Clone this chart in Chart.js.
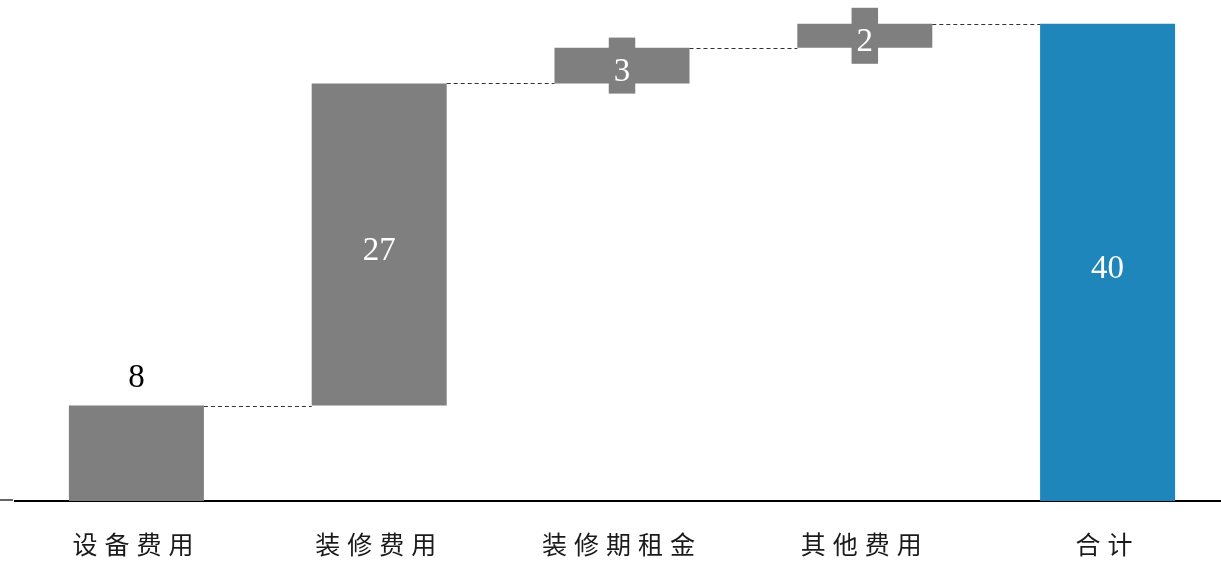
<!DOCTYPE html>
<html>
<head>
<meta charset="utf-8">
<script src="https://cdn.jsdelivr.net/npm/chart.js@4"></script>
<style>
  html, body { margin: 0; padding: 0; background: #fff; overflow: hidden; }
  #wrap { position: absolute; left: 0; top: 0; width: 1240px; height: 579px; }
</style>
</head>
<body>
<div id="wrap"><canvas id="chart"></canvas></div>
<script>
const categories = ['设备费用', '装修费用', '装修期租金', '其他费用', '合计'];
const amounts = [8, 27, 3, 2, 40];
const isTotal = [false, false, false, false, true];

const stepColor = '#7f7f7f';
const totalColor = '#1e86ba';

// build floating bars from the step amounts
let running = 0;
const floats = [];
const tops = [];
amounts.forEach((v, i) => {
    if (isTotal[i]) {
        floats.push([0, v]);
        tops.push(v);
    } else {
        floats.push([running, running + v]);
        running += v;
        tops.push(running);
    }
});

const waterfallExtras = {
    id: 'waterfallExtras',
    beforeDraw(chart) {
        chart.ctx.letterSpacing = '7px';
    },
    beforeDatasetsDraw(chart) {
        chart.ctx.letterSpacing = '0px';
    },
    afterDatasetsDraw(chart) {
        const ctx = chart.ctx;
        const meta = chart.getDatasetMeta(0);
        const yScale = chart.scales.y;
        ctx.save();

        // dashed connectors between bars
        ctx.strokeStyle = '#333';
        ctx.lineWidth = 1;
        ctx.setLineDash([4, 3]);
        for (let i = 0; i < meta.data.length - 1; i++) {
            const a = meta.data[i], b = meta.data[i + 1];
            const y = Math.round(yScale.getPixelForValue(tops[i])) + 0.5;
            ctx.beginPath();
            ctx.moveTo(a.x + a.width / 2, y);
            ctx.lineTo(b.x - b.width / 2, y);
            ctx.stroke();
        }
        ctx.setLineDash([]);

        // small tick left of the axis
        const y0 = yScale.getPixelForValue(0);
        ctx.strokeStyle = '#333';
        ctx.lineWidth = 1.5;
        ctx.beginPath();
        ctx.moveTo(0, y0 - 1);
        ctx.lineTo(chart.chartArea.left - 2, y0 - 1);
        ctx.stroke();

        // value labels
        ctx.font = '33px "Liberation Serif", "Times New Roman", serif';
        ctx.textAlign = 'center';
        ctx.textBaseline = 'middle';
        meta.data.forEach((bar, i) => {
            const txt = String(amounts[i]);
            if (i === 0) {
                ctx.fillStyle = '#000';
                ctx.fillText(txt, bar.x, bar.y - 27);
                return;
            }
            const mid = (bar.y + bar.base) / 2;
            const w = ctx.measureText(txt).width + 10;
            ctx.fillStyle = isTotal[i] ? totalColor : stepColor;
            ctx.fillRect(bar.x - w / 2, mid - 28, w, 56);
            ctx.fillStyle = '#fff';
            ctx.fillText(txt, bar.x, mid + 7);
        });
        ctx.restore();
    }
};

new Chart(document.getElementById('chart'), {
    type: 'bar',
    data: {
        labels: categories,
        datasets: [{
            data: floats,
            backgroundColor: isTotal.map(t => t ? totalColor : stepColor),
            borderWidth: 0,
            barPercentage: 0.556,
            categoryPercentage: 1
        }]
    },
    options: {
        responsive: true,
        maintainAspectRatio: false,
        animation: false,
        layout: { padding: { left: 15, right: 11, top: 0, bottom: 0 } },
        plugins: {
            legend: { display: false },
            tooltip: { enabled: false }
        },
        scales: {
            x: {
                grid: { display: false },
                border: { display: true, color: '#000', width: 2 },
                ticks: {
                    color: '#1a1a1a',
                    padding: 20,
                    font: { family: '"Noto Sans CJK SC", sans-serif', size: 25 }
                }
            },
            y: {
                display: false,
                min: 0,
                max: 42
            }
        }
    },
    plugins: [waterfallExtras]
});
</script>
</body>
</html>
